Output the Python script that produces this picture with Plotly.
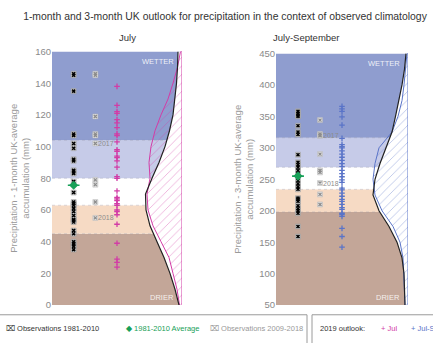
import plotly.graph_objects as go

# ---------------- July (1-month) accumulations, mm ----------------
jul_obs_1981_2010 = [146, 145, 135, 108, 107, 102, 99, 92, 91, 85, 84, 83, 78, 71, 65,
                     64, 63, 61, 59, 56.5, 54, 53.5, 52.4, 47, 45, 40, 39, 38, 37, 35]
jul_avg_1981_2010 = 75.6
jul_obs_2009_2018 = [146, 145, 119, 108, 107, 102, 79, 76, 65, 55]
jul_obs_2009_2018_labels = ["", "", "", "", "", "2017", "", "", "", "2018"]
jul_outlook_2019 = [138, 126, 122, 121, 117, 115, 112, 108, 107, 103, 98, 97, 94, 93, 91,
                    87, 81, 80, 72, 68, 67, 66, 64, 63, 60, 59, 57, 51, 39, 29, 27, 24]
jul_band_edges = [0, 45, 63, 80, 104, 160]

# relative probability density (climatology vs 2019 outlook) by accumulation
jul_density_mm = [0, 10, 20, 30, 40, 50, 60, 70, 80, 90, 100, 110, 120, 130, 140, 150, 160]
jul_clim_density = [3, 7, 12, 18, 25, 32, 36, 36.5, 30, 23, 17, 12.5, 9, 7, 5.5, 4.5, 4]
jul_outlook_density = [2.5, 5, 9, 13, 21, 29, 34, 35, 32, 33, 31, 27, 21, 14, 9, 4.5, 1.5]

# ---------------- July-September (3-month) accumulations, mm ----------------
jas_obs_1981_2010 = [358, 355, 352, 350, 335, 325, 321, 289, 277, 273, 269, 264, 259, 248,
                     243, 238, 234, 220, 218, 215, 208, 203, 200, 196, 175, 159]
jas_avg_1981_2010 = 255
jas_obs_2009_2018 = [344, 322, 319, 290, 264, 261, 244, 226, 210, 320]
jas_obs_2009_2018_labels = ["", "", "2017", "", "", "", "2018", "", "", ""]
jas_outlook_2019 = [366, 362, 358, 349, 336, 315, 305, 302, 300, 295, 290, 285, 280, 275,
                    270, 264, 259, 254, 249, 245, 236, 233, 228, 223, 218, 215, 210, 205,
                    202, 196, 194, 191, 172, 159, 142]
jas_band_edges = [50, 198, 234, 269, 316, 450]

jas_density_mm = [50, 75, 100, 125, 150, 175, 200, 225, 250, 275, 300, 325, 350, 375, 400, 425, 450]
jas_clim_density = [3, 3.5, 4, 6, 11, 19, 29, 35, 33, 28, 22, 16, 12.5, 9, 6, 3.5, 2]
jas_outlook_density = [3, 3.5, 4, 5, 8, 15, 26, 33, 35, 33, 29, 16, 10, 6, 4, 2.5, 1]

# ---------------- styling ----------------
band_colors = ["#c3a698", "#f6dac4", "#ffffff", "#c6cbe8", "#8f9dcf"]
FONT = "Liberation Sans, Arial, Helvetica, sans-serif"
MAGENTA = "#d23ca6"
BLUE = "#5a74c8"
GREEN = "#18a058"
COL_OBS, COL_RECENT, COL_OUTLOOK = 1 / 6, 1 / 3, 1 / 2   # column positions in panel width
W, H = 433, 343

fig = go.Figure()


def add_panel(xa, ya, edges, obs, avg, recent, recent_labels, outlook, dens_mm,
              clim_d, out_d, out_color, width_px):
    xref, yref = xa, ya
    lo, hi = edges[0], edges[-1]
    scale = 1.0 / width_px  # density units are panel pixels

    # climatology bands, filled across the panel
    for i, c in enumerate(band_colors):
        fig.add_shape(type="rect", xref=xref, yref=yref, x0=0, x1=1,
                      y0=edges[i], y1=edges[i + 1], fillcolor=c,
                      line=dict(width=0), layer="below")
    for e in edges[1:-1]:
        fig.add_shape(type="line", xref=xref, yref=yref, x0=0, x1=1, y0=e, y1=e,
                      line=dict(color="rgba(150,150,170,0.45)", width=0.7, dash="dot"),
                      layer="below")

    clim_x = [1 - d * scale for d in clim_d]
    out_x = [1 - d * scale for d in out_d]

    # area to the right of the climatological density is left blank
    fig.add_trace(go.Scatter(x=clim_x + [1, 1], y=dens_mm + [hi, lo], xaxis=xa, yaxis=ya,
                             mode="none", fill="toself", fillcolor="white",
                             hoverinfo="skip", showlegend=False))
    # hatched outlook density
    fig.add_trace(go.Scatter(x=out_x + [1, 1], y=dens_mm + [hi, lo], xaxis=xa, yaxis=ya,
                             mode="lines", fill="toself", fillcolor="rgba(0,0,0,0)",
                             line=dict(color=out_color, width=1),
                             fillpattern=dict(shape="/", fgcolor=out_color,
                                              bgcolor="rgba(0,0,0,0)", size=6,
                                              solidity=0.12),
                             hoverinfo="skip", showlegend=False))
    # climatological density curve
    fig.add_trace(go.Scatter(x=clim_x, y=dens_mm, xaxis=xa, yaxis=ya, mode="lines",
                             line=dict(color="#222222", width=1.2),
                             hoverinfo="skip", showlegend=False))

    # observations 1981-2010
    fig.add_trace(go.Scatter(x=[COL_OBS] * len(obs), y=obs, xaxis=xa, yaxis=ya,
                             mode="markers",
                             marker=dict(symbol="square", size=5, color="#c8c8c8",
                                         line=dict(color="#9a9a9a", width=0.5)),
                             showlegend=False))
    fig.add_trace(go.Scatter(x=[COL_OBS] * len(obs), y=obs, xaxis=xa, yaxis=ya,
                             mode="markers",
                             marker=dict(symbol="x-thin", size=3,
                                         line=dict(color="#000000", width=1.5)),
                             showlegend=False))
    # 1981-2010 average
    fig.add_trace(go.Scatter(x=[COL_OBS], y=[avg], xaxis=xa, yaxis=ya, mode="markers",
                             marker=dict(symbol="diamond", size=7, color=GREEN),
                             error_x=dict(type="constant", value=0.045, color=GREEN,
                                          thickness=1.6, width=0),
                             showlegend=False))
    # observations 2009-2018
    fig.add_trace(go.Scatter(x=[COL_RECENT] * len(recent), y=recent, xaxis=xa, yaxis=ya,
                             mode="markers",
                             marker=dict(symbol="square", size=5, color="#e4e4e4",
                                         line=dict(color="#b5b5b5", width=0.5)),
                             showlegend=False))
    fig.add_trace(go.Scatter(x=[COL_RECENT] * len(recent), y=recent, xaxis=xa, yaxis=ya,
                             mode="markers",
                             marker=dict(symbol="x-thin", size=3,
                                         line=dict(color="#8c8c8c", width=1.3)),
                             showlegend=False))
    # 2019 outlook members
    fig.add_trace(go.Scatter(x=[COL_OUTLOOK] * len(outlook), y=outlook, xaxis=xa, yaxis=ya,
                             mode="markers",
                             marker=dict(symbol="cross-thin", size=4,
                                         line=dict(color=out_color, width=1.3)),
                             showlegend=False))
    for v, lab in zip(recent, recent_labels):
        if lab:
            fig.add_annotation(x=COL_RECENT, y=v, xref=xref, yref=yref, text=lab,
                               showarrow=False, xanchor="left", xshift=1,
                               font=dict(family=FONT, size=7, color="#8c8c8c"))

    fig.add_annotation(x=0.955, y=0.985, xref=xa + " domain", yref=ya + " domain",
                       text="WETTER", showarrow=False, xanchor="right", yanchor="top",
                       font=dict(family=FONT, size=7.5, color="rgba(255,255,255,0.85)"))
    fig.add_annotation(x=0.955, y=0.005, xref=xa + " domain", yref=ya + " domain",
                       text="DRIER", showarrow=False, xanchor="right", yanchor="bottom",
                       font=dict(family=FONT, size=7.5, color="rgba(255,255,255,0.85)"))


add_panel("x", "y", jul_band_edges, jul_obs_1981_2010, jul_avg_1981_2010,
          jul_obs_2009_2018, jul_obs_2009_2018_labels, jul_outlook_2019,
          jul_density_mm, jul_clim_density, jul_outlook_density, MAGENTA, 130)
add_panel("x2", "y2", jas_band_edges, jas_obs_1981_2010, jas_avg_1981_2010,
          jas_obs_2009_2018, jas_obs_2009_2018_labels, jas_outlook_2019,
          jas_density_mm, jas_clim_density, jas_outlook_density, BLUE, 132)

axis_font = dict(family=FONT, size=9.5, color="#8a8a8a")
title_font = dict(family=FONT, size=9.5, color="#9a9a9a")
xcommon = dict(range=[0, 1], visible=False, fixedrange=True)
ycommon = dict(showgrid=False, zeroline=False, showline=False, ticks="",
               tickfont=axis_font, fixedrange=True)

fig.update_layout(
    width=W, height=H, autosize=False,
    margin=dict(l=0, r=0, t=0, b=0),
    paper_bgcolor="white", plot_bgcolor="white",
    font=dict(family=FONT),
    showlegend=False,
    xaxis=dict(domain=[52 / W, 182 / W], **xcommon),
    xaxis2=dict(domain=[276 / W, 408 / W], anchor="y2", **xcommon),
    yaxis=dict(domain=[34 / H, 296 / H], range=[0, 160], dtick=20,
               title=dict(text="Precipitation - 1-month UK-average<br>accumulation (mm)",
                          font=title_font, standoff=3), **ycommon),
    yaxis2=dict(domain=[34 / H, 294 / H], range=[50, 450], dtick=50, anchor="x2",
                title=dict(text="Precipitation - 3-month UK-average<br>accumulation (mm)",
                           font=title_font, standoff=3), **ycommon),
    title=dict(text="1-month and 3-month UK outlook for precipitation in the context of observed climatology",
               x=225 / W, xanchor="center", y=1 - 16 / H, yanchor="middle",
               font=dict(family=FONT, size=10.4, color="#333333")),
)

# panel headings
fig.add_annotation(x=117 / W, y=1 - 33 / H, xref="paper", yref="paper", text="July",
                   showarrow=False, yanchor="middle",
                   font=dict(family=FONT, size=9.5, color="#333333"))
fig.add_annotation(x=342 / W, y=1 - 33 / H, xref="paper", yref="paper",
                   text="July-September", showarrow=False, yanchor="middle",
                   font=dict(family=FONT, size=9.5, color="#333333"))

# key along the bottom
fig.add_shape(type="rect", xref="paper", yref="paper", x0=-0.01, x1=307 / W,
              y0=-0.1, y1=1 - 319 / H, line=dict(color="#9a9a9a", width=1))
fig.add_shape(type="rect", xref="paper", yref="paper", x0=312 / W, x1=1.1,
              y0=-0.1, y1=1 - 319 / H, line=dict(color="#9a9a9a", width=1))
key_y = 1 - 333 / H
key_items = [
    (4, "⌧ Observations 1981-2010", "#333333"),
    (124, "◆ 1981-2010 Average", GREEN),
    (208, "⌧ Observations 2009-2018", "#999999"),
    (318, "2019 outlook:", "#333333"),
    (379, "+ Jul", MAGENTA),
    (409, "+ Jul-Sep", BLUE),
]
for px, txt, col in key_items:
    fig.add_annotation(x=px / W, y=key_y, xref="paper", yref="paper", text=txt,
                       showarrow=False, xanchor="left", yanchor="middle",
                       font=dict(family=FONT, size=7.5, color=col))

fig.write_html("out.html")
